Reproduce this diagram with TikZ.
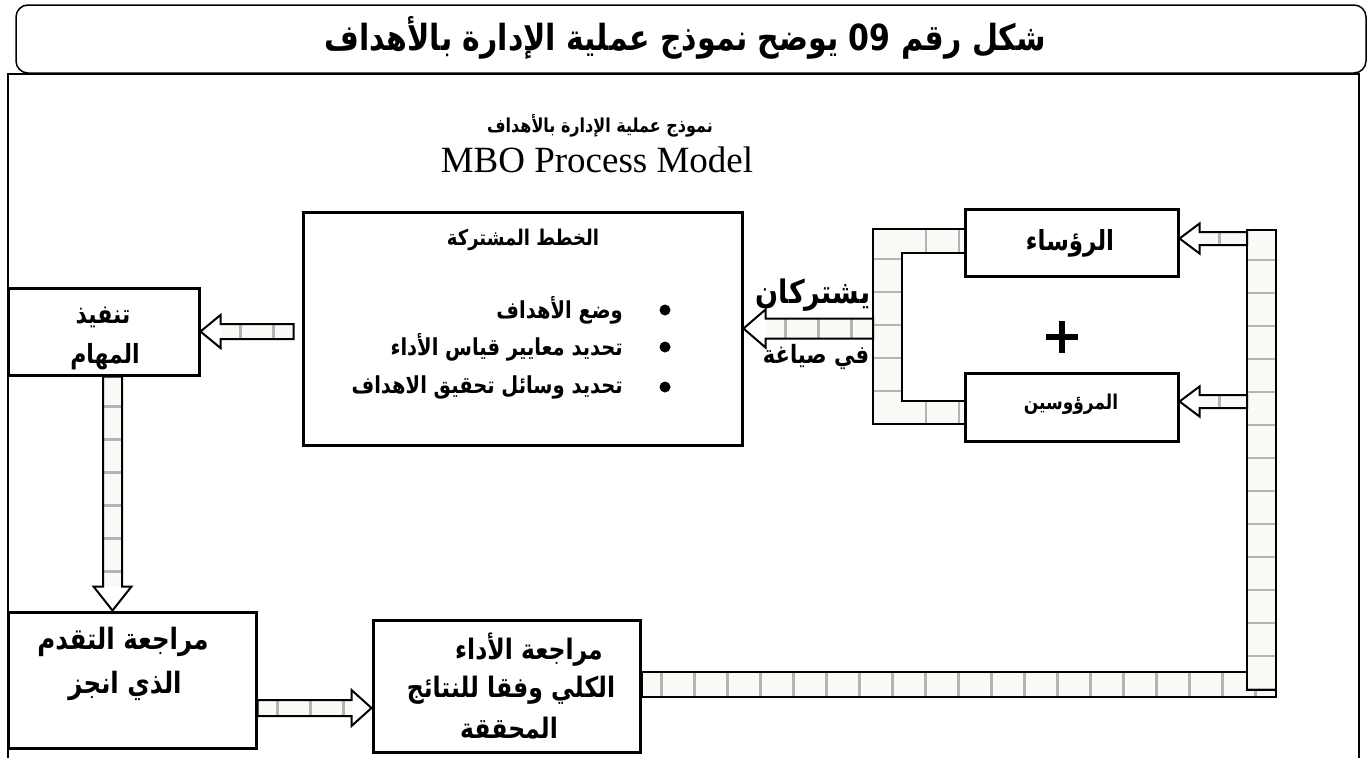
\documentclass[tikz,border=0pt]{standalone}
\usepackage{fontspec}
\usepackage{graphicx}
\usetikzlibrary{calc}
\TeXXeTstate=1
\setmainfont{Liberation Serif}
\newfontfamily\arb[Script=Arabic]{DejaVu Sans}
\definecolor{shaftwhite}{HTML}{F9F9F5}
\definecolor{stripegray}{HTML}{B4B4B4}

% right-to-left line, set a little taller than the font's own proportions
\newcommand\artxt[1]{\scalebox{1}[1.2]{\beginR #1\endR}}

% hollow block arrow: #1 start, #2 tip, #3 shaft half width, #4 head half width,
% #5 head length, #6 stripe style of the shaft
\newcommand\blockarrow[6]{%
  \coordinate (baB) at ($(#2)!#5!(#1)$);
  \fill[white] ($(#1)!#3!90:(#2)$) -- ($(baB)!#3!90:(#2)$) -- ($(baB)!#4!90:(#2)$) -- (#2)
    -- ($(baB)!#4!-90:(#2)$) -- ($(baB)!#3!-90:(#2)$) -- ($(#1)!#3!-90:(#2)$) -- cycle;
  \fill[shaftwhite,#6] ($(#1)!#3!90:(#2)$) -- ($(baB)!#3!90:(#2)$)
    -- ($(baB)!#3!-90:(#2)$) -- ($(#1)!#3!-90:(#2)$) -- cycle;
  \draw[outline] ($(#1)!#3!90:(#2)$) -- ($(baB)!#3!90:(#2)$) -- ($(baB)!#4!90:(#2)$) -- (#2)
    -- ($(baB)!#4!-90:(#2)$) -- ($(baB)!#3!-90:(#2)$) -- ($(#1)!#3!-90:(#2)$) -- cycle;
}

\begin{document}
\begin{tikzpicture}[x=1pt,y=-1pt,
  box/.style={draw, line width=3pt, inner sep=0pt},
  ar/.style={font=\arb\bfseries\fontsize{#1}{#1}\selectfont, inner sep=0pt},
  outline/.style={line width=2pt, line join=miter},
  stripe/.style={draw=stripegray, line width=2.8pt},
  hstripes/.style={path picture={\foreach \k in {0,...,20}{\draw[stripe]
      ($(path picture bounding box.north west)+(\k*33+20,-5)$) -- ++(0,80);}}},
  vstripes/.style={path picture={\foreach \k in {0,...,20}{\draw[stripe]
      ($(path picture bounding box.north west)+(-5,\k*33+30)$) -- ++(80,0);}}},
  bullet/.style={circle, fill, inner sep=0pt, minimum size=11pt},
]
\useasboundingbox (0,0) rectangle (1371,758);

% caption box and outer frame
\draw[line width=1.5pt, rounded corners=12pt] (16,5) rectangle (1366,73);
\node[ar=30] (title) at (685,38) {\artxt{شكل رقم \beginL 09\endL{} يوضح نموذج عملية الإدارة بالأهداف}};
\draw[line width=1.5pt] (8,758) -- (8,74) -- (1359,74) -- (1359,758);

% heading of the model
\node[ar=16] (subtitle) at (600,126) {\artxt{نموذج عملية الإدارة بالأهداف}};
\node[font=\fontsize{37}{37}\selectfont, inner sep=0pt] (mbo) at (597,160) {MBO Process Model};

% boxes
\node[box, minimum width=439pt, minimum height=233pt] (plans) at (522.5,328.5) {};
\node[box, minimum width=191pt, minimum height=87pt] (tasks) at (103.5,331.5) {};
\node[box, minimum width=248pt, minimum height=136pt] (review) at (132,680) {};
\node[box, minimum width=267pt, minimum height=132pt] (perf) at (506.5,686) {};
\node[box, minimum width=213pt, minimum height=67pt] (heads) at (1071.5,242.5) {};
\node[box, minimum width=213pt, minimum height=68pt] (subs) at (1071.5,407) {};

% box texts
\node[ar=18] (plansT) at (523,240) {\artxt{الخطط المشتركة}};
\node[ar=19.5, anchor=east] (p1) at (623,310) {\artxt{وضع الأهداف}};
\node[ar=19.5, anchor=east] (p2) at (623,347) {\artxt{تحديد معايير قياس الأداء}};
\node[ar=19.5, anchor=east] (p3) at (623,387) {\artxt{تحديد وسائل تحقيق الاهداف}};
\node[bullet] (b1) at (665,310) {};
\node[bullet] (b2) at (665,347) {};
\node[bullet] (b3) at (665,387) {};

\node[ar=22] (tasksA) at (103,317) {\artxt{تنفيذ}};
\node[ar=22] (tasksB) at (105,357) {\artxt{المهام}};
\node[ar=24.5] (reviewA) at (123,642) {\artxt{مراجعة التقدم}};
\node[ar=24.5] (reviewB) at (125,686) {\artxt{الذي انجز}};
\node[ar=23.5] (perfA) at (529,650) {\artxt{مراجعة الأداء}};
\node[ar=23.5] (perfB) at (511,690) {\artxt{الكلي وفقا للنتائج}};
\node[ar=23.5] (perfC) at (509,728) {\artxt{المحققة}};
\node[ar=23] (headsT) at (1070,243) {\artxt{الرؤساء}};
\node[ar=17] (subsT) at (1071,404) {\artxt{المرؤوسين}};

% plus sign between the two parties
\node[inner sep=0pt] (plus) at (1062,337) {};
\draw[line width=5.5pt] ($(plus)+(-16,0)$) -- ($(plus)+(16,0)$) ($(plus)+(0,-16)$) -- ($(plus)+(0,16)$);

% feedback bars: bottom run and right riser
\coordinate (bbT) at (0,672);
\draw[line width=2pt, fill=shaftwhite, hstripes] (perf.east |- bbT) rectangle (1276,697);
\draw[line width=2.6pt, fill=shaftwhite, vstripes] (1247,230) rectangle (1276,690);

% bracket joining the two parties
\coordinate (brTL) at (873,229);
\coordinate (brTI) at (902,253);
\coordinate (brBL) at (873,424);
\coordinate (brBI) at (902,401);
\fill[shaftwhite, hstripes] (brTL) rectangle (heads.west |- brTI);
\fill[shaftwhite, hstripes] (brBL) rectangle (subs.west |- brBI);
\fill[shaftwhite, vstripes] (brTL) rectangle (brBL -| brTI);
\draw[line width=2.4pt] (heads.west |- brTL) -- (brTL) -- (brBL) -- (subs.west |- brBL);
\draw[line width=2.4pt] (heads.west |- brTI) -- (brTI) -- (brBI) -- (subs.west |- brBI);

% block arrows
\coordinate (a1s) at ($(plans.west |- tasks.center)+(-8,0)$);
\blockarrow{a1s}{tasks.east}{7.5pt}{16.5pt}{20pt}{hstripes}
\coordinate (a2s) at ($(tasks.south)+(9,0)$);
\coordinate (a2t) at (a2s |- review.north);
\blockarrow{a2s}{a2t}{9.5pt}{19pt}{24pt}{vstripes}
\coordinate (a3y) at (0,708);
\coordinate (a3s) at (review.east |- a3y);
\coordinate (a3t) at (perf.west |- a3y);
\blockarrow{a3s}{a3t}{8pt}{18pt}{20pt}{hstripes}
\coordinate (a4s) at (brTL |- plans.east);
\blockarrow{a4s}{plans.east}{10pt}{19pt}{22pt}{hstripes}
\coordinate (a5s) at (1247,238.5);
\coordinate (a5t) at (heads.east |- a5s);
\blockarrow{a5s}{a5t}{6.5pt}{15pt}{20pt}{hstripes}
\coordinate (a6s) at (1247,401.5);
\coordinate (a6t) at (subs.east |- a6s);
\blockarrow{a6s}{a6t}{6.5pt}{15pt}{20pt}{hstripes}

% labels of the shared formulation
\node[ar=27] (shareA) at (813,295) {\artxt{يشتركان}};
\node[ar=21] (shareB) at (816,357) {\artxt{في صياغة}};
\end{tikzpicture}
\end{document}
